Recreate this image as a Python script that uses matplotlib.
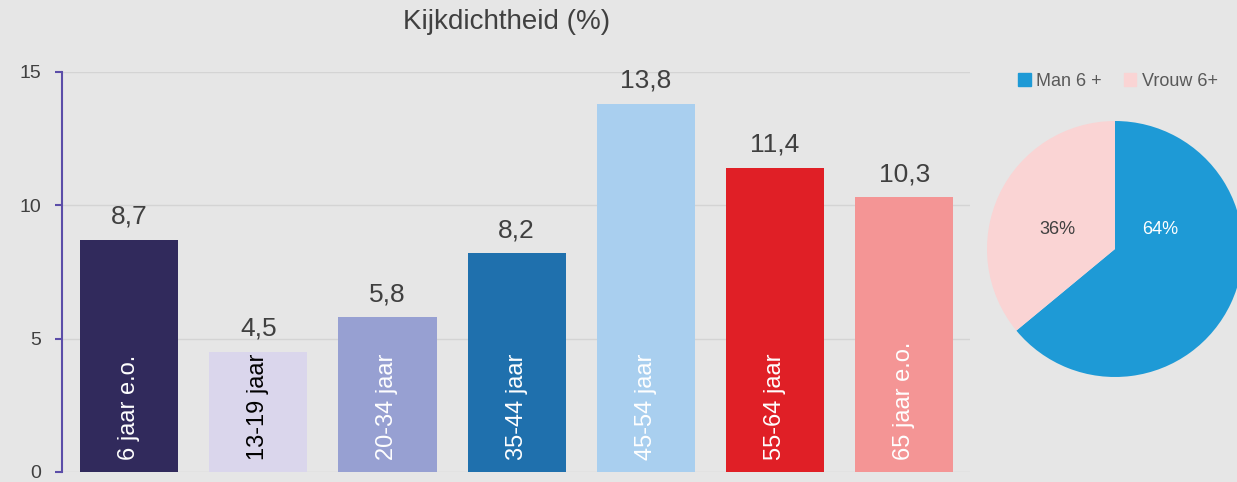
import matplotlib.pyplot as plt
from matplotlib.patches import Patch

# bar chart data
groups = ['6 jaar e.o.', '13-19 jaar', '20-34 jaar', '35-44 jaar',
          '45-54 jaar', '55-64 jaar', '65 jaar e.o.']
values = [8.7, 4.5, 5.8, 8.2, 13.8, 11.4, 10.3]
bar_colors = ['#312a5c', '#dad6ec', '#97a0d2', '#1f70ad',
              '#a9cfef', '#e01f26', '#f49595']
text_colors = ['white', 'black', 'white', 'white', 'white', 'white', 'white']

# pie data
pie_labels = ['Man 6 +', 'Vrouw 6+']
pie_values = [64, 36]
pie_colors = ['#1e9ad6', '#fad4d4']

plt.rcParams['font.family'] = ['Liberation Sans', 'DejaVu Sans']
fig = plt.figure(figsize=(12.37, 4.82), dpi=100)
fig.patch.set_facecolor('#e6e6e6')

ax = fig.add_axes([62/1237, 1-472/482, (970-62)/1237, 400/482])
ax.set_facecolor('none')
x = range(len(values))
bars = ax.bar(x, values, width=0.76, color=bar_colors, zorder=3)
ax.set_xlim(-0.52, 6.51)
ax.set_ylim(0, 15)
ax.set_yticks([0, 5, 10, 15])
ax.set_xticks([])
ax.grid(axis='y', color='#d4d4d4', lw=1, zorder=0)
for s in ['top', 'right', 'bottom']:
    ax.spines[s].set_visible(False)
ax.spines['left'].set_color('#5b4da8')
ax.spines['left'].set_linewidth(1.5)
ax.tick_params(axis='y', colors='#5b4da8', length=5, width=1.5,
               labelsize=14, labelcolor='#404040', pad=10)

for i, b in enumerate(bars):
    ax.annotate(f'{values[i]:.1f}'.replace('.', ','),
                (b.get_x() + b.get_width()/2, b.get_height()),
                xytext=(0, 8), textcoords='offset points',
                ha='center', va='bottom', fontsize=19, color='#404040')
    ax.text(b.get_x() + b.get_width()/2, 0.45, groups[i], rotation=90,
            ha='center', va='bottom', fontsize=17, color=text_colors[i],
            zorder=4)

fig.text(507/1237, 1-22/482, 'Kijkdichtheid (%)', ha='center', va='center',
         fontsize=20, color='#404040')

# pie
pax = fig.add_axes([(1115-128)/1237, 1-377/482, 256/1237, 256/482])
wedges, _ = pax.pie(pie_values, colors=pie_colors, startangle=90,
                    counterclock=False)
pax.set_xlim(-1, 1)
pax.set_ylim(-1, 1)
pax.text(0.35, 0.15, f'{pie_values[0]}%', ha='center', va='center',
         fontsize=13, color='white')
pax.text(-0.45, 0.15, f'{pie_values[1]}%', ha='center', va='center',
         fontsize=13, color='#404040')

handles = [Patch(color=c) for c in pie_colors]
fig.legend(handles, pie_labels, loc='center', ncol=2, frameon=False,
           bbox_to_anchor=(1118/1237, 1-81/482), handlelength=0.7,
           handleheight=0.7, handletextpad=0.3, columnspacing=1.2,
           prop={'size': 13}, labelcolor='#595959')

fig.savefig('out.png', dpi=100, facecolor=fig.get_facecolor())
